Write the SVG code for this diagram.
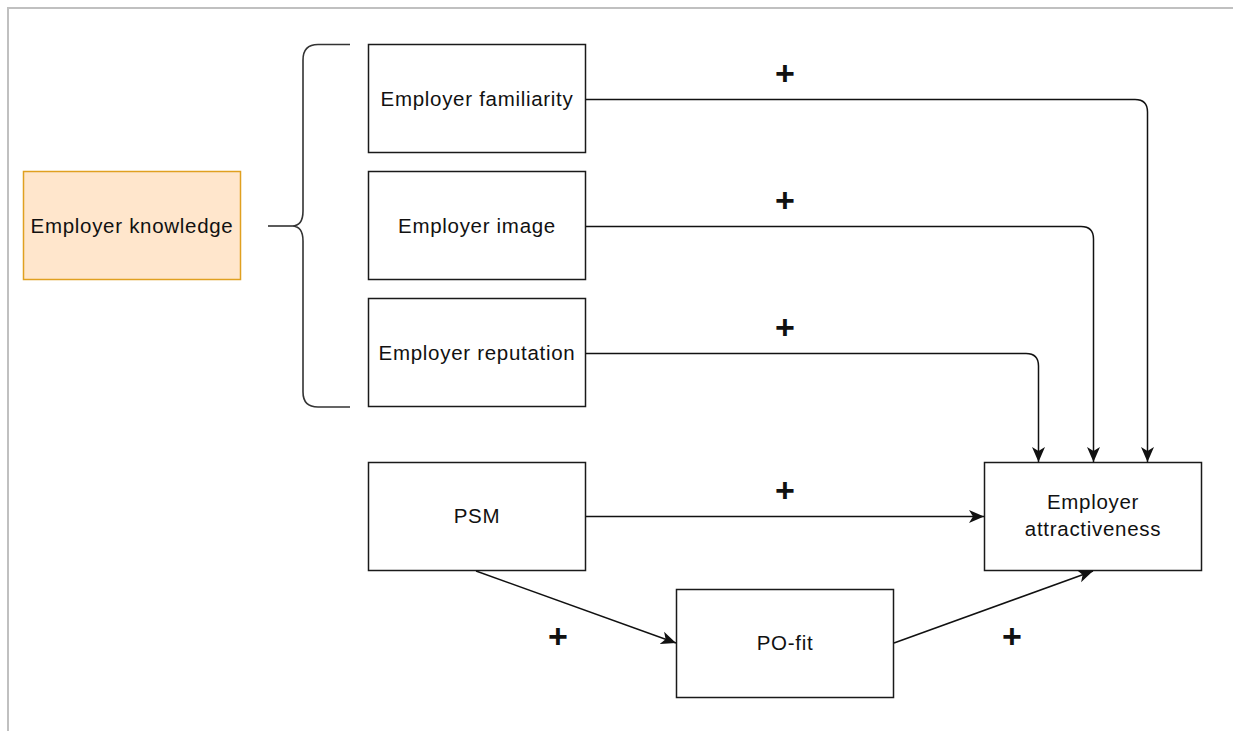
<svg xmlns="http://www.w3.org/2000/svg" width="1233" height="731" viewBox="0 0 1233 731">
<style>
.box{fill:#ffffff;stroke:#1a1a1a;stroke-width:1.5}
.know{fill:#ffe6cc;stroke:#e0a020;stroke-width:1.5}
.lbl{font-family:"Liberation Sans",Arial,sans-serif;font-size:20.5px;letter-spacing:0.7px;fill:#111;text-anchor:middle}
.plus{font-family:"Liberation Sans",Arial,sans-serif;font-size:34px;font-weight:bold;fill:#111;text-anchor:middle}
.conn{fill:none;stroke:#111;stroke-width:1.5}
.brace{fill:none;stroke:#333;stroke-width:1.6}
.frame{stroke:#c0c0c0;stroke-width:2;fill:none}
</style>
<defs>
<marker id="arr" markerUnits="userSpaceOnUse" markerWidth="16" markerHeight="14" refX="15" refY="7" orient="auto" viewBox="0 0 16 14">
<path d="M0,0.5 L15,7 L0,13.5 L4,7 Z" fill="#111"/>
</marker>
</defs>
<rect width="1233" height="731" fill="#ffffff"/>
<path class="frame" d="M8,731 L8,8 L1233,8"/>

<g id="employer-knowledge">
<rect class="know" x="23.5" y="171.5" width="217" height="108"/>
<text class="lbl" x="132" y="233">Employer knowledge</text>
</g>

<g id="brace">
<path class="brace" d="M268,226 L292,226"/>
<path class="brace" d="M350,44.5 L318,44.5 Q303,44.5 303,60 L303,211 Q303,226 292,226 Q303,226 303,241 L303,392 Q303,407 318,407 L350,407"/>
</g>

<g id="employer-familiarity">
<rect class="box" x="368.5" y="44.5" width="217" height="108"/>
<text class="lbl" x="477" y="106">Employer familiarity</text>
</g>

<g id="employer-image">
<rect class="box" x="368.5" y="171.5" width="217" height="108"/>
<text class="lbl" x="477" y="233">Employer image</text>
</g>

<g id="employer-reputation">
<rect class="box" x="368.5" y="298.5" width="217" height="108"/>
<text class="lbl" x="477" y="360">Employer reputation</text>
</g>

<g id="psm">
<rect class="box" x="368.5" y="462.5" width="217" height="108"/>
<text class="lbl" x="477" y="523">PSM</text>
</g>

<g id="employer-attractiveness">
<rect class="box" x="984.5" y="462.5" width="217" height="108"/>
<text class="lbl" x="1093" y="509">Employer</text>
<text class="lbl" x="1093" y="536">attractiveness</text>
</g>

<g id="po-fit">
<rect class="box" x="676.5" y="589.5" width="217" height="108"/>
<text class="lbl" x="785" y="650">PO-fit</text>
</g>

<g id="connectors">
<path class="conn" marker-end="url(#arr)" d="M586,99.5 L1135,99.5 Q1147.5,99.5 1147.5,112 L1147.5,462"/>
<path class="conn" marker-end="url(#arr)" d="M586,226.5 L1081,226.5 Q1093.5,226.5 1093.5,239 L1093.5,462"/>
<path class="conn" marker-end="url(#arr)" d="M586,353.5 L1026,353.5 Q1038.5,353.5 1038.5,366 L1038.5,462"/>
<path class="conn" marker-end="url(#arr)" d="M586,516.5 L984,516.5"/>
<path class="conn" marker-end="url(#arr)" d="M476,571 L676,643"/>
<path class="conn" marker-end="url(#arr)" d="M894,643 L1093,571"/>
</g>

<g id="labels">
<text class="plus" x="785" y="85">+</text>
<text class="plus" x="785" y="212">+</text>
<text class="plus" x="785" y="339">+</text>
<text class="plus" x="785" y="502">+</text>
<text class="plus" x="558" y="648">+</text>
<text class="plus" x="1012" y="648">+</text>
</g>
</svg>
